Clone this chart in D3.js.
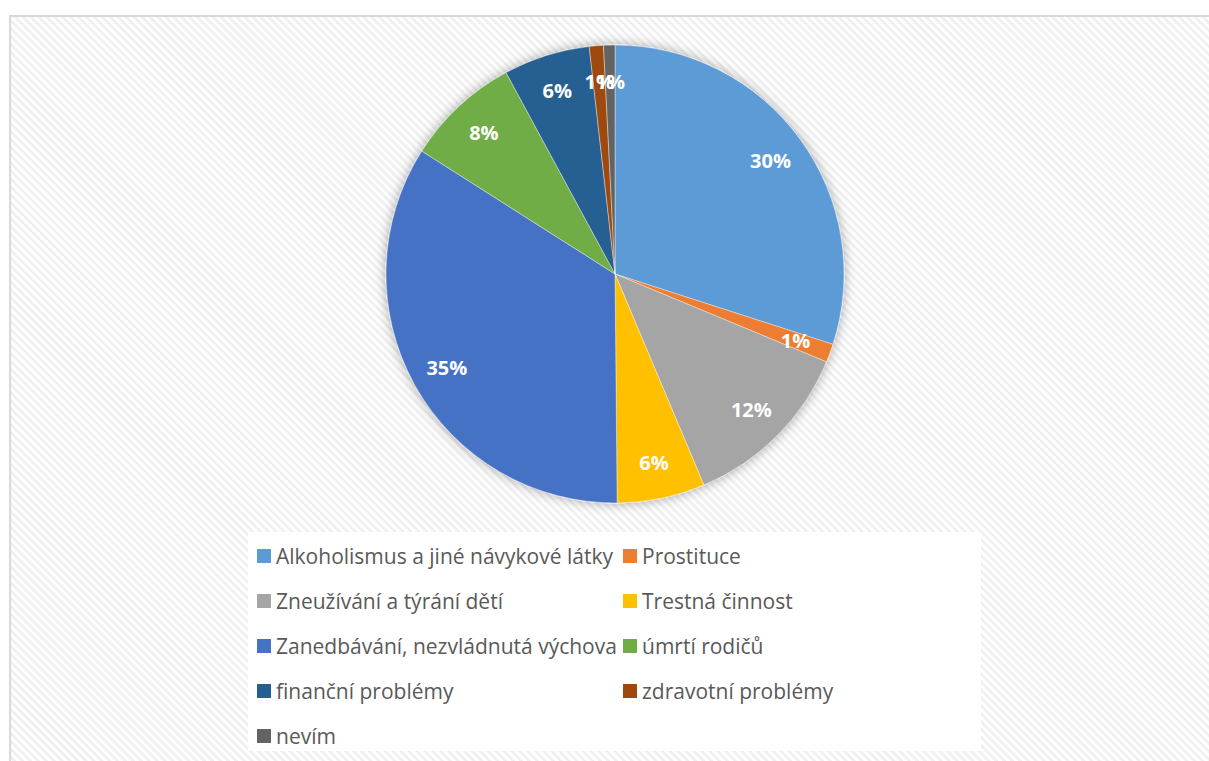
<!DOCTYPE html>
<html>
<head>
<meta charset="utf-8">
<script src="https://cdn.jsdelivr.net/npm/d3@7"></script>
<style>
  body { margin: 0; background: #fff; }
  svg { display: block; font-family: "Open Sans", "Noto Sans", sans-serif; }
</style>
</head>
<body>
<div class="chart"></div>
<script>
// kategorie, hodnoty (odhad z obrázku, v %) a barvy
const categories = [
  'Alkoholismus a jiné návykové látky',
  'Prostituce',
  'Zneužívání a týrání dětí',
  'Trestná činnost',
  'Zanedbávání, nezvládnutá výchova',
  'úmrtí rodičů',
  'finanční problémy',
  'zdravotní problémy',
  'nevím'
]
const values = [30.0, 1.3, 12.4, 6.2, 34.2, 8.1, 6.1, 1.0, 0.8]
const labels = ['30%', '1%', '12%', '6%', '35%', '8%', '6%', '1%', '1%']
const colors = ['#5B9BD5', '#ED7D31', '#A5A5A5', '#FFC000', '#4472C4', '#70AD47', '#255E91', '#9E480E', '#636363']

const width = 1209
const height = 761

const svg = d3.select('.chart')
  .append('svg')
    .attr('width', width)
    .attr('height', height)

const defs = svg.append('defs')

// šrafované pozadí
const pat = defs.append('pattern')
    .attr('id', 'hatch')
    .attr('patternUnits', 'userSpaceOnUse')
    .attr('width', 5.6)
    .attr('height', 5.6)
    .attr('patternTransform', 'rotate(45)')
pat.append('rect').attr('width', 5.6).attr('height', 5.6).attr('fill', '#ffffff')
pat.append('rect').attr('width', 5.6).attr('height', 2.6).attr('fill', '#efefef')

const shadow = defs.append('filter')
    .attr('id', 'shadow')
    .attr('x', '-20%').attr('y', '-20%')
    .attr('width', '140%').attr('height', '140%')
shadow.append('feDropShadow')
    .attr('dx', 0).attr('dy', 0)
    .attr('stdDeviation', 6)
    .attr('flood-color', '#000')
    .attr('flood-opacity', 0.35)

// rámeček grafu
svg.append('rect')
    .attr('x', 10).attr('y', 16)
    .attr('width', 1210).attr('height', 760)
    .attr('fill', 'url(#hatch)')
    .attr('stroke', '#d9d9d9')
    .attr('stroke-width', 2)

// koláč
const cx = 615, cy = 274, radius = 229

const pie = d3.pie().sort(null).value(d => d)
const arcs = pie(values)

const arc = d3.arc().innerRadius(0).outerRadius(radius)
const labelArc = d3.arc().innerRadius(radius * 0.84).outerRadius(radius * 0.84)

const g = svg.append('g')
    .attr('transform', `translate(${cx}, ${cy})`)

g.append('g')
    .attr('filter', 'url(#shadow)')
  .selectAll('path')
  .data(arcs)
  .enter()
  .append('path')
    .attr('d', arc)
    .attr('fill', (d, i) => colors[i])
    .attr('stroke', '#fff')
    .attr('stroke-width', 0.4)

g.selectAll('.lbl')
  .data(arcs)
  .enter()
  .append('text')
    .attr('class', 'lbl')
    .attr('transform', d => `translate(${labelArc.centroid(d)})`)
    .attr('text-anchor', 'middle')
    .attr('dy', '0.36em')
    .attr('fill', '#fff')
    .attr('font-weight', 'bold')
    .attr('font-size', 20)
    .text((d, i) => labels[i])

// legenda
svg.append('rect')
    .attr('x', 248).attr('y', 532)
    .attr('width', 733).attr('height', 219)
    .attr('fill', '#fff')

const colX = [257, 623]
const rowY = d3.range(5).map(r => 556 + r * 45)

const leg = svg.append('g')
  .selectAll('g')
  .data(categories)
  .enter()
  .append('g')
    .attr('transform', (d, i) => `translate(${colX[i % 2]}, ${rowY[Math.floor(i / 2)]})`)

leg.append('rect')
    .attr('x', 0).attr('y', -7)
    .attr('width', 14).attr('height', 14)
    .attr('fill', (d, i) => colors[i])

leg.append('text')
    .attr('x', 19)
    .attr('dy', '0.36em')
    .attr('fill', '#595959')
    .attr('font-size', 21)
    .text(d => d)
</script>
</body>
</html>
